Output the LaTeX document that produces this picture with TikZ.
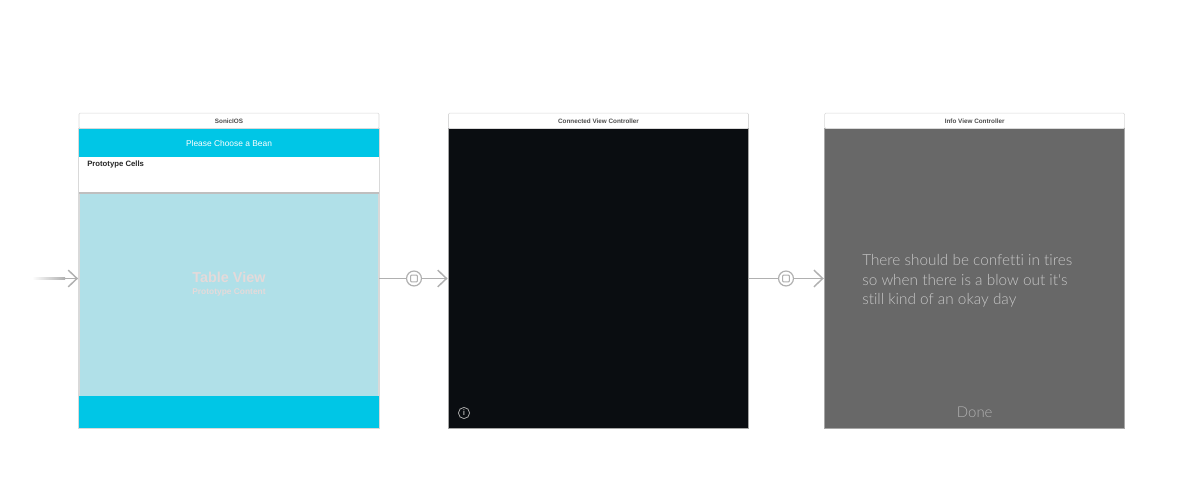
\documentclass[tikz,border=0pt]{standalone}
\usepackage{xcolor}
\usepackage{fontspec}
\setmainfont{Liberation Sans}
\newfontfamily\thinfont[Ligatures=NoCommon]{Lato Light}
\usetikzlibrary{arrows.meta, positioning}
\definecolor{beanblue}{HTML}{00C6E6}
\definecolor{tablepale}{HTML}{B0E0E8}
\definecolor{nightblack}{HTML}{0A0D11}
\definecolor{infogray}{HTML}{686868}
\definecolor{wire}{HTML}{B0B0B0}
\definecolor{ghost}{HTML}{E4DADA}

\begin{document}
\begin{tikzpicture}[
      x=0.75pt, y=-0.75pt,
      node distance=0pt,
      screen/.style={draw=#1, line width=1pt, minimum width=225pt, minimum height=225pt, inner sep=0pt, outer sep=0pt},
      titlebar/.style={draw=black!15, rounded corners=1pt, fill=white, minimum width=225pt, minimum height=11.6pt, inner sep=0pt, outer sep=0pt, text=black!70, font=\bfseries\fontsize{4.75}{5}\selectfont},
      band/.style={fill=beanblue, minimum width=225pt, inner sep=0pt, outer sep=0pt},
      wireline/.style={draw=wire, line width=1.1pt},
      arr/.style={wireline, -{Straight Barb[length=6.6pt, width=12.6pt]}, shorten >=0.7pt},
      segue/.style={circle, draw=wire, line width=0.9pt, fill=white, minimum size=11.2pt, inner sep=0pt, outer sep=0pt},
      seguebox/.style={draw=wire, line width=0.8pt, rounded corners=0.6pt, minimum size=5pt, inner sep=0pt},
    ]
    \useasboundingbox (0,0) rectangle (1179,498);

    % SonicIOS
    \node[screen=black!15, fill=tablepale] (sonic) at (229,278.5) {};
    \node[titlebar, above=of sonic] (sonictitle) {SonicIOS};
    \node[band, minimum height=21.4pt, below=0.3pt of sonictitle] (nav) {\textcolor{white}{\fontsize{6.3}{8}\selectfont Please Choose a Bean}};
    \node[fill=white, minimum width=225pt, minimum height=26.2pt, inner sep=0pt, outer sep=0pt, below=of nav] (cells) {};
    \node[fill=black!25, minimum width=225pt, minimum height=1.5pt, inner sep=0pt, outer sep=0pt, below=of cells] (cellsline) {};
    \node[band, minimum height=24pt, anchor=south] (foot) at (sonic.south) {};
    \node[text=black!85, font=\bfseries\fontsize{5.8}{7}\selectfont, anchor=west, inner sep=0pt] (protocells) at (87,165) {Prototype Cells};
    \node[text=ghost, font=\bfseries\fontsize{10.8}{12}\selectfont, inner sep=0pt] (tableview) at (229,277) {Table View};
    \node[text=ghost, font=\bfseries\fontsize{6.3}{7}\selectfont, inner sep=0pt, below=4.5pt of tableview] (protocontent) {Prototype Content};

    % Connected View Controller
    \node[screen=black!35, fill=nightblack] (connected) at (598.5,278.5) {};
    \node[titlebar, above=of connected] (connectedtitle) {Connected View Controller};
    \node[circle, draw=black!35, line width=0.6pt, minimum size=8.4pt, inner sep=0pt, text=black!35, font=\bfseries\fontsize{6}{6}\selectfont] (info) at (464,413) {i};

    % Info View Controller
    \node[screen=black!35, fill=infogray] (infoview) at (974.7,278.5) {};
    \node[titlebar, above=of infoview] (infotitle) {Info View Controller};
    \node[align=left, text=black!22, anchor=west, inner sep=0pt, font=\thinfont\fontsize{11.5}{14.7}\selectfont] (confetti) at (862,281) {There should be confetti in tires\\so when there is a blow out it's\\still kind of an okay day};
    \node[text=black!30, inner sep=0pt, font=\thinfont\fontsize{11.2}{14}\selectfont] (done) at (974.7,412.5) {Done};

    % segues
    \coordinate (entry) at (65,278.5);
    \node[minimum width=24.75pt, minimum height=1.1pt, inner sep=0pt, outer sep=0pt, left color=white, right color=wire, anchor=east] (tail) at (entry) {};
    \node[segue] (seg) at (414,278.5) {};
    \node[seguebox] (segbox) at (seg) {};
    \node[segue] (segb) at (786,278.5) {};
    \node[seguebox] (segbbox) at (segb) {};

    \draw[arr] (tail.east) -- (sonic.west);
    \draw[wireline] (sonic.east) -- (seg);
    \draw[arr] (seg) -- (connected.west);
    \draw[wireline] (connected.east) -- (segb);
    \draw[arr] (segb) -- (infoview.west);
  \end{tikzpicture}
\end{document}
